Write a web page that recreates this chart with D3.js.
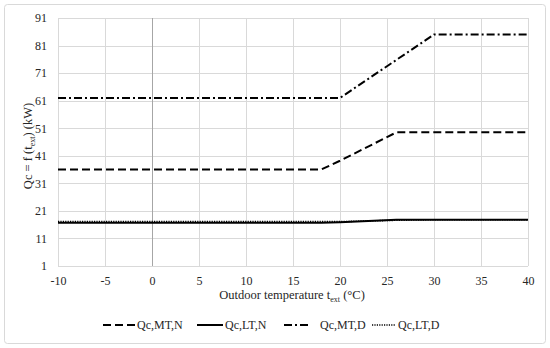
<!DOCTYPE html>
<html>
<head>
<meta charset="utf-8">
<script src="https://cdn.jsdelivr.net/npm/d3@7"></script>
<style>
  body { margin: 0; background: #fff; }
</style>
</head>
<body>
<div id="chart"></div>
<script>
// Chart values
var temps = [-10, 18, 20, 26, 30, 40];
var qcMTN = [36, 36, 39.2, 49.5, 49.5, 49.5];
var qcLTN = [16.7, 16.7, 16.9, 17.8, 17.8, 17.8];
var qcMTD = [62, 62, 62, 75.8, 85, 85];
var qcLTD = [17.1, 17.1, 17.1, 17.6, 17.8, 17.8];
var seriesNames = ["Qc,MT,N", "Qc,LT,N", "Qc,MT,D", "Qc,LT,D"];
var xTicks = [-10, -5, 0, 5, 10, 15, 20, 25, 30, 35, 40];
var yTicks = [1, 11, 21, 31, 41, 51, 61, 71, 81, 91];

var serif = "'Liberation Serif', 'DejaVu Serif', serif";

var svgWidth = 550;
var svgHeight = 348;

var margin = { top: 18, right: 22, bottom: 82, left: 58 };
var chartWidth = svgWidth - margin.left - margin.right;
var chartHeight = svgHeight - margin.top - margin.bottom;

var svg = d3.select("#chart")
  .append("svg")
  .attr("width", svgWidth)
  .attr("height", svgHeight)
  .attr("font-family", serif);

// outer frame
svg.append("rect")
  .attr("x", 4.5).attr("y", 4.5)
  .attr("width", 541).attr("height", 339)
  .attr("rx", 3)
  .attr("fill", "#fff")
  .attr("stroke", "#d9d9d9");

var chartGroup = svg.append("g")
  .attr("transform", `translate(${margin.left}, ${margin.top})`);

var xScale = d3.scaleLinear().domain([-10, 40]).range([0, chartWidth]);
var yScale = d3.scaleLinear().domain([1, 91]).range([chartHeight, 0]);

// gridlines
chartGroup.append("g")
  .selectAll("line")
  .data(yTicks)
  .enter()
  .append("line")
  .attr("x1", 0).attr("x2", chartWidth)
  .attr("y1", d => Math.round(yScale(d)) + 0.5)
  .attr("y2", d => Math.round(yScale(d)) + 0.5)
  .attr("stroke", "#d9d9d9");

chartGroup.append("g")
  .selectAll("line")
  .data(xTicks)
  .enter()
  .append("line")
  .attr("y1", 0).attr("y2", chartHeight)
  .attr("x1", d => Math.round(xScale(d)) + 0.5)
  .attr("x2", d => Math.round(xScale(d)) + 0.5)
  .attr("stroke", d => d === 0 ? "#a6a6a6" : "#d9d9d9");

// axes (labels only), plain hyphen for negatives like the original
var bottomAxis = d3.axisBottom(xScale).tickValues(xTicks).tickSize(0).tickPadding(10)
  .tickFormat(d => String(d));
var leftAxis = d3.axisLeft(yScale).tickValues(yTicks).tickSize(0).tickPadding(11)
  .tickFormat(d => String(d));

var xAxisG = chartGroup.append("g")
  .attr("transform", `translate(0, ${chartHeight})`)
  .call(bottomAxis);
var yAxisG = chartGroup.append("g").call(leftAxis);

[xAxisG, yAxisG].forEach(function(g) {
  g.attr("font-family", serif).attr("font-size", 12);
  g.select(".domain").remove();
  g.selectAll("text")
    .attr("font-family", serif)
    .attr("fill", "#262626");
});

// lines
var styles = [
  { dash: "8,4", width: 2 },
  { dash: null, width: 2 },
  { dash: "8,3,2,3", width: 2 },
  { dash: "1.2,1.2", width: 1.6 }
];
var allSeries = [qcMTN, qcLTN, qcMTD, qcLTD];

var line = d3.line()
  .x(d => xScale(d[0]))
  .y(d => yScale(d[1]));

allSeries.forEach(function(vals, i) {
  chartGroup.append("path")
    .datum(temps.map((t, j) => [t, vals[j]]))
    .attr("d", line)
    .attr("fill", "none")
    .attr("stroke", "#000")
    .attr("stroke-width", styles[i].width)
    .attr("stroke-dasharray", styles[i].dash);
});

// axis titles
var xTitle = svg.append("text")
  .attr("x", 292)
  .attr("y", 299)
  .attr("text-anchor", "middle")
  .attr("font-family", serif)
  .attr("font-size", 12.5)
  .attr("fill", "#262626");
xTitle.append("tspan").text("Outdoor temperature t");
xTitle.append("tspan").attr("dy", 3).attr("font-size", 8).text("ext");
xTitle.append("tspan").attr("dy", -3).text(" (°C)");

var yTitle = svg.append("text")
  .attr("transform", "translate(32, 146) rotate(-90)")
  .attr("text-anchor", "middle")
  .attr("font-family", serif)
  .attr("font-size", 12.5)
  .attr("fill", "#262626");
yTitle.append("tspan").text("Qc = f (t");
yTitle.append("tspan").attr("dy", 3).attr("font-size", 8).text("ext");
yTitle.append("tspan").attr("dy", -3).text(") (kW)");

// legend
var legendPos = [
  { x1: 103, x2: 135, tx: 137 },
  { x1: 197, x2: 223, tx: 225 },
  { x1: 284, x2: 309, tx: 320 },
  { x1: 372, x2: 396, tx: 398 }
];
var legendY = 325;

legendPos.forEach(function(p, i) {
  svg.append("line")
    .attr("x1", p.x1).attr("x2", p.x2)
    .attr("y1", legendY).attr("y2", legendY)
    .attr("stroke", "#000")
    .attr("stroke-width", styles[i].width)
    .attr("stroke-dasharray", styles[i].dash);
  svg.append("text")
    .attr("x", p.tx)
    .attr("y", legendY + 4)
    .attr("font-family", serif)
    .attr("font-size", 12)
    .attr("fill", "#262626")
    .text(seriesNames[i]);
});
</script>
</body>
</html>
